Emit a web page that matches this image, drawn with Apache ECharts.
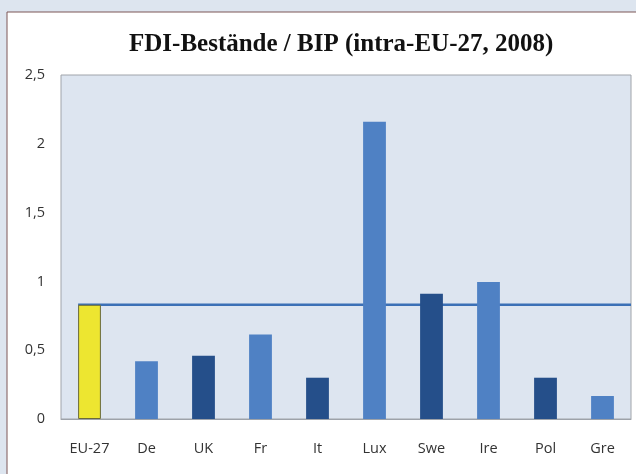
<!DOCTYPE html>
<html><head><meta charset="utf-8">
<script src="https://cdn.jsdelivr.net/npm/echarts@6/dist/echarts.min.js"></script>
<style>html,body{margin:0;padding:0;background:#dde5ef;}#c{width:636px;height:474px;}</style>
</head><body><div id="c"></div>
<script>
const categories = ['EU-27','De','UK','Fr','It','Lux','Swe','Ire','Pol','Gre'];
const values = [0.83,0.42,0.46,0.615,0.30,2.16,0.91,0.995,0.30,0.167];
const barColors = ['#ede630','#4f81c4','#254f8a','#4f81c4','#254f8a','#4f81c4','#254f8a','#4f81c4','#254f8a','#4f81c4'];
const euAverage = 0.83;
const yTicks = [0,0.5,1,1.5,2,2.5];

const chart = echarts.init(document.getElementById('c'));
const barWidthPct = 0.40;
const option = {
  backgroundColor: 'transparent',
  animation: false,
  title: {
    text: 'FDI-Bestände / BIP (intra-EU-27, 2008)',
    left: 124, top: 27,
    textStyle: {fontFamily: 'Liberation Serif', fontWeight: 'bold', fontSize: 25, color: '#111'}
  },
  grid: {left: 61, top: 75, right: 5, bottom: 55, show: true, backgroundColor: '#dde5f0', borderColor: '#a0a4aa', borderWidth: 1, z: 1},
  xAxis: {
    type: 'category', data: categories,
    axisLine: {lineStyle: {color: '#9aa0a8', width: 1}},
    axisTick: {show: false},
    axisLabel: {color: '#333', fontFamily: 'Open Sans', fontSize: 14.5, margin: 22}
  },
  yAxis: {
    type: 'value', min: 0, max: 2.5, interval: 0.5,
    axisLine: {show: false}, axisTick: {show: false},
    splitLine: {lineStyle: {color: '#8e939a', width: 1}},
    axisLabel: {color: '#333', fontFamily: 'Open Sans', fontSize: 14.5, margin: 16,
      formatter: v => String(v).replace('.', ',')}
  },
  series: [{
    type: 'bar', barWidth: (barWidthPct*100)+'%', z: 3,
    data: values.map((v,i) => ({value: v, itemStyle: {color: barColors[i], borderColor: i===0 ? '#6a6a3a' : 'transparent', borderWidth: i===0 ? 1 : 0}}))
  }]
};
chart.setOption(option);

// EU average line from the left edge of the EU-27 bar to the right of the plot
const p0 = chart.convertToPixel({xAxisIndex:0, yAxisIndex:0}, [categories[0], euAverage]);
const pEnd = chart.convertToPixel({xAxisIndex:0, yAxisIndex:0}, [categories[categories.length-1], euAverage]);
const catW = (pEnd[0] - p0[0]) / (categories.length-1);
const gridRight = 636 - 5;
chart.setOption({
  graphic: [
    {type: 'rect', shape: {x: 7, y: 12, width: 640, height: 470}, style: {fill: '#ffffff', stroke: '#7d5656', lineWidth: 1}, z: -10, silent: true},
    {type: 'line', shape: {x1: p0[0] - catW*barWidthPct/2, y1: p0[1], x2: gridRight, y2: p0[1]}, style: {stroke: '#3b70b6', lineWidth: 2.5}, z: 2}
  ]
});
</script></body></html>
